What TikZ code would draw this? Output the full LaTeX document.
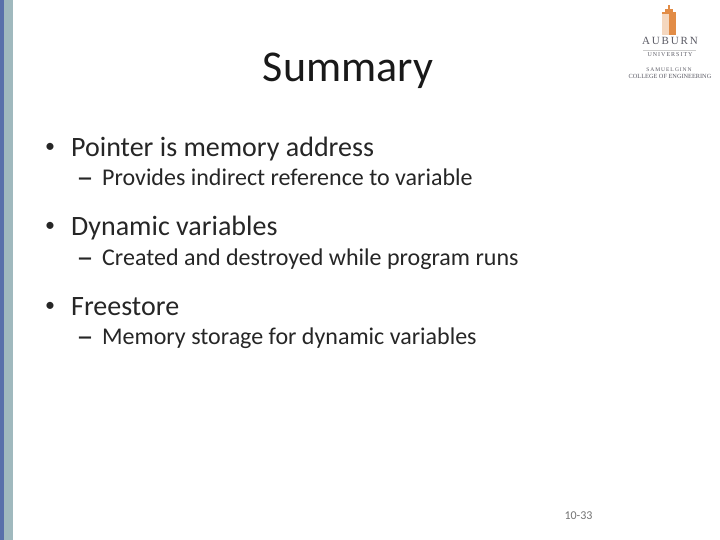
\documentclass[tikz,border=0pt]{standalone}
\usepackage{fontspec}
\setmainfont{Carlito}
\newfontfamily\logofont{Liberation Serif}
\definecolor{stripeblue}{RGB}{88,112,170}
\definecolor{stripegrey}{RGB}{160,185,190}
\definecolor{towerorange}{RGB}{226,140,70}
\definecolor{logogrey}{RGB}{90,90,100}
\tikzset{
  headline/.style={anchor=base,inner sep=0pt,text=black!90,font=\fontsize{44}{50}\selectfont},
  bulletone/.style={anchor=base west,inner sep=0pt,text=black!85,font=\fontsize{28}{32}\selectfont},
  bullettwo/.style={anchor=base west,inner sep=0pt,text=black!85,font=\fontsize{24}{28}\selectfont},
  bulletdot/.style={anchor=base west,inner sep=0pt,text=black!85,font=\fontsize{20}{24}\selectfont},
  bulletdash/.style={anchor=base west,inner sep=0pt,text=black!85,font=\fontsize{34}{38}\selectfont},
  logotext/.style={anchor=base,inner sep=0pt,text=logogrey},
  pagenum/.style={anchor=base,inner sep=0pt,text=black!55,font=\fontsize{12}{14}\selectfont}
}
\begin{document}
\begin{tikzpicture}[x=1pt,y=-1pt]
  \useasboundingbox (0,0) rectangle (720,540);
  \fill[white] (0,0) rectangle (720,540);
  % stripe on the left
  \fill[stripegrey] (0,0) rectangle (13,540);
  \fill[stripeblue] (0,0) rectangle (3.5,540);
  % title
  \node[headline] (title) at (348,81.5) {Summary};
  % list
  \node[bulletdot] (dot1) at (45,153) {•};
  \node[bulletone] (item1) at (71,157) {Pointer is memory address};
  \node[bulletdash] (dash1) at (76.5,189) {–};
  \node[bullettwo] (sub1) at (102,186) {Provides indirect reference to variable};
  \node[bulletdot] (dot2) at (45,232) {•};
  \node[bulletone] (item2) at (71,236) {Dynamic variables};
  \node[bulletdash] (dash2) at (76.5,268) {–};
  \node[bullettwo] (sub2) at (102,265) {Created and destroyed while program runs};
  \node[bulletdot] (dot3) at (45,311) {•};
  \node[bulletone] (item3) at (71,315) {Freestore};
  \node[bulletdash] (dash3) at (76.5,347) {–};
  \node[bullettwo] (sub3) at (102,344) {Memory storage for dynamic variables};
  % logo
  \fill[towerorange] (662,12) rectangle (676,35);
  \fill[towerorange] (665,9) rectangle (673,12);
  \fill[towerorange] (668,5) rectangle (670,9);
  \fill[white!65!towerorange] (662,14) rectangle (669,35);
  \node[logotext,font=\logofont\fontsize{11}{12}\selectfont] (auburn) at (670,45) {A\,U\,B\,U\,R\,N};
  \draw[black!20] (643,50) -- (696,50);
  \node[logotext,font=\logofont\fontsize{6}{7}\selectfont] (univ) at (670,57) {U\,N\,I\,V\,E\,R\,S\,I\,T\,Y};
  \node[logotext,font=\logofont\fontsize{5.5}{7}\selectfont] (ginn) at (669,72) {S\,A\,M\,U\,E\,L\ G\,I\,N\,N};
  \node[logotext,font=\logofont\fontsize{6.3}{8}\selectfont] (coe) at (670,78.5) {COLLEGE OF ENGINEERING};
  % page number
  \node[pagenum] (page) at (578.5,519) {10-33};
\end{tikzpicture}
\end{document}
